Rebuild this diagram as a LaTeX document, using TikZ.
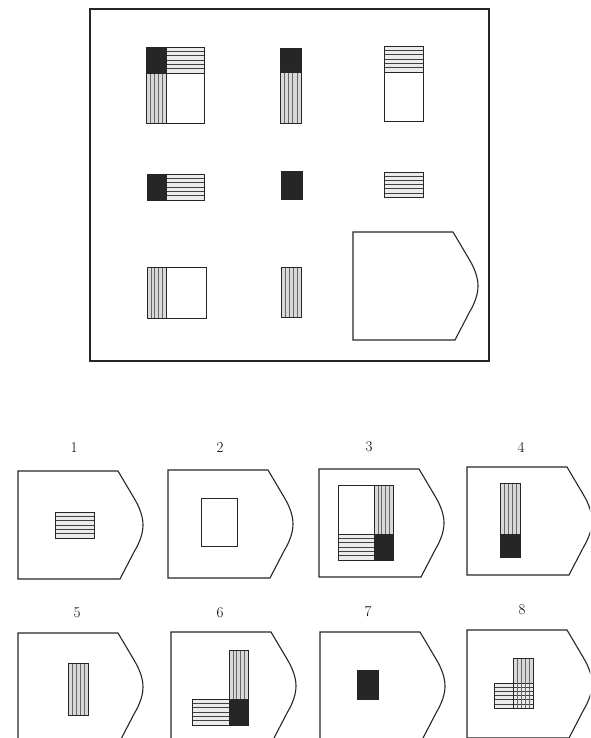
\documentclass[tikz,border=0pt]{standalone}
\usepackage{tikz}

% striped and black cells, coordinates: x1 y1 x2 y2
\newcommand\hstripes[4]{%
  \fill[black!8] (#1,#2) rectangle (#3,#4);
  \foreach \k in {1,...,5}{\draw[stripe] (#1,{#2+\k*(#4-#2)/6}) -- (#3,{#2+\k*(#4-#2)/6});}
  \draw[cell] (#1,#2) rectangle (#3,#4);}
\newcommand\vstripes[4]{%
  \fill[black!15] (#1,#2) rectangle (#3,#4);
  \foreach \k in {1,...,4}{\draw[stripe,black!60] ({#1+\k*(#3-#1)/5},#2) -- ({#1+\k*(#3-#1)/5},#4);}
  \draw[cell] (#1,#2) rectangle (#3,#4);}
\newcommand\blk[4]{%
  \fill[black!85] (#1,#2) rectangle (#3,#4);
  \draw[cell] (#1,#2) rectangle (#3,#4);}

\begin{document}
\begin{tikzpicture}[
  x=1pt,y=-1pt,
  cell/.style={draw=black!85,line width=0.9pt},
  stripe/.style={draw=black!75,line width=0.45pt},
  frame/.style={draw=black!85,line width=1.1pt},
  num/.style={font=\fontsize{15}{17}\selectfont,inner sep=0pt},
  pics/pentframe/.style={code={
    \draw[frame] (0,0) -- (100,0) -- (116,27) .. controls (122,37) and (125,46) .. (125,54)
      .. controls (125,62) and (122,71) .. (116,81) -- (102,108) -- (0,108) -- cycle;}}]
\useasboundingbox (0,0) rectangle (590,738);
\clip (0,0) rectangle (590,738);

% matrix
\draw[frame] (90,9) rectangle (489,361);
\vstripes{146}{73}{166}{123}
\hstripes{166}{47}{204}{73}
\blk{146}{47}{166}{73}
\draw[cell] (146,47) rectangle (204,123);
\blk{280}{48}{301}{72}
\vstripes{280}{72}{301}{123}
\hstripes{384}{46}{423}{72}
\draw[cell] (384,46) rectangle (423,121);
\blk{147}{174}{166}{200}
\hstripes{166}{174}{204}{200}
\blk{281}{171}{302}{199}
\hstripes{384}{172}{423}{197}
\vstripes{147}{267}{166}{318}
\draw[cell] (147,267) rectangle (206,318);
\vstripes{281}{267}{301}{317}
\pic at (353,232) {pentframe};

% answers
\node[num] (n1) at (74,448) {1};
\node[num] (n2) at (220,448) {2};
\node[num] (n3) at (369,447) {3};
\node[num] (n4) at (521,447) {4};
\node[num] (n5) at (77,613) {5};
\node[num] (n6) at (220,613) {6};
\node[num] (n7) at (368,612) {7};
\node[num] (n8) at (522,610) {8};

\pic at (18,471) {pentframe};
\pic at (168,470) {pentframe};
\pic at (319,469) {pentframe};
\pic at (467,467) {pentframe};
\pic at (18,633) {pentframe};
\pic at (171,632) {pentframe};
\pic at (320,632) {pentframe};
\pic at (467,630) {pentframe};

\hstripes{55}{512}{94}{538}
\draw[cell] (201,498) rectangle (237,546);
\vstripes{374}{485}{393}{534}
\blk{374}{534}{393}{560}
\hstripes{338}{534}{374}{560}
\draw[cell] (338,485) rectangle (393,560);
\vstripes{500}{483}{520}{534}
\blk{500}{534}{520}{557}
\vstripes{68}{663}{88}{715}
\vstripes{229}{650}{248}{699}
\blk{229}{699}{248}{725}
\hstripes{192}{699}{229}{725}
\blk{357}{670}{378}{699}
\vstripes{513}{658}{533}{708}
\hstripes{494}{683}{533}{708}
% overlap of option 8 is crossed
\foreach \k in {1,...,4}{\draw[stripe,black!60] ({513+\k*4},683) -- ({513+\k*4},708);}
\draw[cell] (513,658) rectangle (533,708);
\end{tikzpicture}
\end{document}
